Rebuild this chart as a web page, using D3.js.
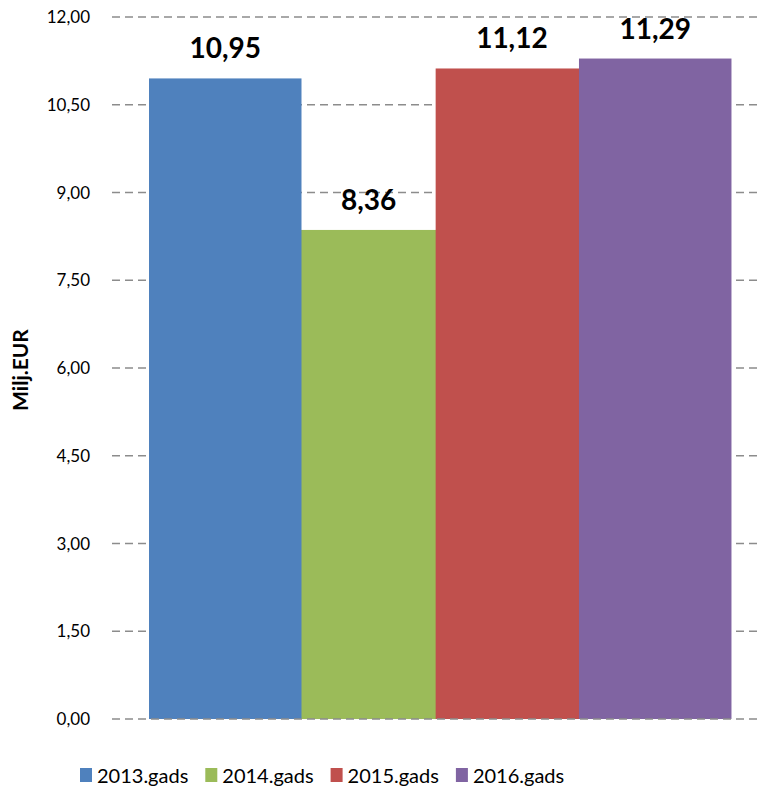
<!DOCTYPE html>
<html>
<head>
<meta charset="utf-8">
<script src="https://cdn.jsdelivr.net/npm/d3@7"></script>
<style>
  body { margin: 0; background: #fff; }
  svg { display: block; font-family: Lato, "Open Sans", sans-serif; }
</style>
</head>
<body>
<script>
// chart data
var years = ["2013.gads", "2014.gads", "2015.gads", "2016.gads"];
var values = [10.95, 8.36, 11.12, 11.29];
var colors = ["#4f81bd", "#9bbb59", "#c0504d", "#8064a2"];
var tickValues = [0, 1.5, 3, 4.5, 6, 7.5, 9, 10.5, 12];
var drawOrder = [1, 0, 2, 3]; // green sits under blue

var W = 757, H = 787;
var svg = d3.select("body").append("svg").attr("width", W).attr("height", H);

var y = d3.scaleLinear().domain([0, 12]).range([719, 17]);
var x = d3.scaleBand().domain(years).range([149, 722.3]).padding(0);
var barW = x.bandwidth() * 1.064;

var fmt = function(v) { return d3.format(".2f")(v).replace(".", ","); };

// gridlines (behind bars, except baseline)
svg.append("g").selectAll("line")
  .data(tickValues.filter(function(d) { return d > 0; }))
  .enter().append("line")
  .attr("x1", 112).attr("x2", W)
  .attr("y1", function(d) { return y(d); })
  .attr("y2", function(d) { return y(d); })
  .attr("stroke", "#8c8c8c").attr("stroke-width", 1.5)
  .attr("stroke-dasharray", "8,5");

// tick labels
svg.append("g").selectAll("text")
  .data(tickValues)
  .enter().append("text")
  .attr("x", 90)
  .attr("y", function(d) { return y(d) + 6; })
  .attr("text-anchor", "end")
  .style("font-size", "17px")
  .style("fill", "#000")
  .text(fmt);

// bars
svg.append("g").selectAll("rect")
  .data(drawOrder)
  .enter().append("rect")
  .attr("x", function(i) { return x(years[i]); })
  .attr("y", function(i) { return y(values[i]); })
  .attr("width", barW)
  .attr("height", function(i) { return y(0) - y(values[i]); })
  .attr("fill", function(i) { return colors[i]; });

// baseline on top
svg.append("line")
  .attr("x1", 112).attr("x2", W)
  .attr("y1", y(0)).attr("y2", y(0))
  .attr("stroke", "#8c8c8c").attr("stroke-width", 1.5)
  .attr("stroke-dasharray", "8,5");

// value labels
svg.append("g").selectAll("text")
  .data(values)
  .enter().append("text")
  .attr("x", function(d, i) { return x(years[i]) + barW / 2; })
  .attr("y", function(d) { return y(d) - 20; })
  .attr("text-anchor", "middle")
  .style("font-size", "28px")
  .style("font-weight", "bold")
  .style("fill", "#000")
  .text(fmt);

// y axis title
svg.append("text")
  .attr("transform", "translate(28,370) rotate(-90)")
  .attr("text-anchor", "middle")
  .style("font-size", "21px")
  .style("font-weight", "bold")
  .text("Milj.EUR");

// legend
var legend = svg.append("g").selectAll("g")
  .data(years)
  .enter().append("g")
  .attr("transform", function(d, i) { return "translate(" + (80 + i * 125.3) + ",0)"; });
legend.append("rect")
  .attr("x", 0).attr("y", 768)
  .attr("width", 12).attr("height", 14)
  .attr("fill", function(d, i) { return colors[i]; });
legend.append("text")
  .attr("x", 17).attr("y", 783)
  .style("font-size", "20px")
  .text(function(d) { return d; });
</script>
</body>
</html>
